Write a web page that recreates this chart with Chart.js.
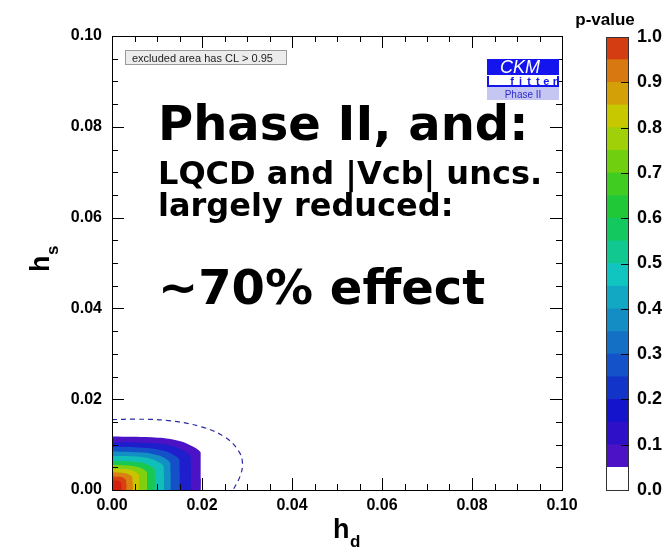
<!DOCTYPE html>
<html>
<head>
<meta charset="utf-8">
<script src="https://cdn.jsdelivr.net/npm/chart.js@4.4.1/dist/chart.umd.min.js"></script>
<style>
html, body { margin: 0; padding: 0; background: #fff; }
#wrap { position: relative; width: 664px; height: 552px; }
#main { position: absolute; left: 0; top: 0; }
#bar { position: absolute; left: 590px; top: 0; }
</style>
</head>
<body>
<div id="wrap">
<canvas id="main" width="664" height="552"></canvas>
<canvas id="bar" width="74" height="552"></canvas>
</div>
<script>
// ---------------- DATA ----------------

// p-value contour levels and the fill colour above each level
const levels = [0.05, 0.1, 0.2, 0.3, 0.4, 0.5, 0.65, 0.8, 0.85, 0.9, 0.95];
const levelColors = ["#4b12c6", "#1e1ecc", "#1450c8", "#1290c4", "#10c0b8",
    "#18c850", "#80d010", "#c8c400", "#d88010", "#d84010", "#d42010"];

// contour boundaries (h_d, h_s)
const contourX = [
    [0, 0.0088, 0.0140, 0.0175, 0.0200, 0.0211, 0.0210, 0.0197],
    [0, 0.0079, 0.0124, 0.0156, 0.0177, 0.0187, 0.0187, 0.0175],
    [0, 0.0068, 0.0107, 0.0134, 0.0152, 0.0161, 0.0161, 0.0150],
    [0, 0.0059, 0.0092, 0.0116, 0.0131, 0.0139, 0.0139, 0.0130],
    [0, 0.0052, 0.0082, 0.0102, 0.0116, 0.0123, 0.0123, 0.0115],
    [0, 0.0043, 0.0067, 0.0085, 0.0096, 0.0102, 0.0102, 0.0095],
    [0, 0.0035, 0.0055, 0.0069, 0.0079, 0.0083, 0.0083, 0.0078],
    [0, 0.0027, 0.0043, 0.0053, 0.0061, 0.0064, 0.0064, 0.0060],
    [0, 0.0021, 0.0033, 0.0041, 0.0046, 0.0049, 0.0049, 0.0046],
    [0, 0.0014, 0.0023, 0.0028, 0.0032, 0.0034, 0.0034, 0.0032],
    [0, 0.0009, 0.0015, 0.0019, 0.0021, 0.0022, 0.0022, 0.0021]
];
const contourY = [
    [0.0118, 0.0116, 0.0110, 0.0098, 0.0080, 0.0055, 0.0027, 0],
    [0.0106, 0.0104, 0.0099, 0.0088, 0.0072, 0.0050, 0.0024, 0],
    [0.0095, 0.0093, 0.0088, 0.0079, 0.0065, 0.0045, 0.0022, 0],
    [0.0085, 0.0083, 0.0079, 0.0071, 0.0058, 0.0040, 0.0020, 0],
    [0.0075, 0.0074, 0.0070, 0.0062, 0.0051, 0.0035, 0.0017, 0],
    [0.0064, 0.0063, 0.0060, 0.0053, 0.0044, 0.0030, 0.0015, 0],
    [0.0055, 0.0054, 0.0051, 0.0046, 0.0037, 0.0026, 0.0013, 0],
    [0.0047, 0.0046, 0.0044, 0.0039, 0.0032, 0.0022, 0.0011, 0],
    [0.0039, 0.0038, 0.0036, 0.0032, 0.0027, 0.0018, 0.0009, 0],
    [0.0030, 0.0029, 0.0028, 0.0025, 0.0020, 0.0014, 0.0007, 0],
    [0.0021, 0.0021, 0.0020, 0.0017, 0.0014, 0.0010, 0.0005, 0]
];

// dashed contour
const dashedX = [0, 0.0051, 0.0125, 0.0199, 0.0250, 0.0280, 0.0290, 0.0284, 0.0269];
const dashedY = [0.0155, 0.0156, 0.0153, 0.0139, 0.0117, 0.0088, 0.0059, 0.0029, 0];

// colour scale bands (lower edge 0.00 ... 0.95, each 0.05 high)
const bandSizes = [0.05, 0.05, 0.05, 0.05, 0.05, 0.05, 0.05, 0.05, 0.05, 0.05,
    0.05, 0.05, 0.05, 0.05, 0.05, 0.05, 0.05, 0.05, 0.05, 0.05];
const bandColors = ["#ffffff", "#4b12c6", "#2d10c8", "#1414cc", "#1234c8",
    "#1352c8", "#1470c4", "#148cc4", "#12a8c4", "#10c4c0",
    "#10c890", "#14c860", "#20c838", "#40cc20", "#70d010",
    "#a0d008", "#c8c800", "#d4a008", "#d87810", "#d43c12"];

// ---------------- MAIN PLOT ----------------

const datasets = [];

datasets.push({
    data: dashedX.map((x, i) => ({ x: x, y: dashedY[i] })),
    borderColor: "#2a2aa0",
    borderWidth: 1.2,
    borderDash: [5, 4],
    pointRadius: 0,
    fill: false,
    tension: 0.4,
    order: 0
});

levels.forEach((lv, k) => {
    datasets.push({
        data: contourX[k].map((x, i) => ({ x: x, y: contourY[k][i] })),
        borderWidth: 0,
        borderColor: levelColors[k],
        backgroundColor: levelColors[k],
        pointRadius: 0,
        fill: "origin",
        tension: 0.4,
        order: 100 - k
    });
});

const tickFont = { family: "'Liberation Sans', Arial, sans-serif", weight: "bold", size: 16 };

const framePlugin = {
    id: "frame",
    afterDraw(chart) {
        const ctx = chart.ctx;
        const a = chart.chartArea;
        const xs = chart.scales.x;
        const ys = chart.scales.y;
        ctx.save();

        // frame
        ctx.strokeStyle = "#000";
        ctx.lineWidth = 1;
        ctx.strokeRect(a.left + 0.5, a.top + 0.5, a.right - a.left, a.bottom - a.top);

        // inner ticks on all sides
        ctx.beginPath();
        for (let i = 0; i <= 20; i++) {
            const v = i * 0.005;
            const len = (i % 4 === 0) ? 12 : 6;
            const px = Math.round(xs.getPixelForValue(v)) + 0.5;
            const py = Math.round(ys.getPixelForValue(v)) + 0.5;
            ctx.moveTo(px, a.bottom); ctx.lineTo(px, a.bottom - len);
            ctx.moveTo(px, a.top); ctx.lineTo(px, a.top + len);
            ctx.moveTo(a.left, py); ctx.lineTo(a.left + len, py);
            ctx.moveTo(a.right, py); ctx.lineTo(a.right - len, py);
        }
        ctx.stroke();

        // legend box
        ctx.fillStyle = "#ececec";
        ctx.fillRect(125.5, 50.5, 161, 14);
        ctx.strokeStyle = "#9a9a9a";
        ctx.strokeRect(125.5, 50.5, 161, 14);
        ctx.fillStyle = "#222";
        ctx.font = "11px 'Liberation Sans', Arial, sans-serif";
        ctx.textBaseline = "alphabetic";
        ctx.fillText("excluded area has CL > 0.95", 132, 61.5);

        // CKMfitter logo
        ctx.fillStyle = "#1414ee";
        ctx.fillRect(487, 59, 72, 16);
        ctx.fillStyle = "#fff";
        ctx.font = "italic 18px 'Liberation Sans', Arial, sans-serif";
        ctx.textAlign = "center";
        ctx.fillText("CKM", 520, 73);
        ctx.fillStyle = "#1414ee";
        ctx.fillRect(487, 76, 72, 11);
        ctx.fillStyle = "#fff";
        ctx.fillRect(489, 76, 68, 9);
        ctx.fillStyle = "#1414ee";
        ctx.font = "bold 11px 'Liberation Sans', Arial, sans-serif";
        "fitter".split("").forEach((c, i) => ctx.fillText(c, 512 + i * 8.6, 84.5));
        ctx.fillStyle = "#c6c6f2";
        ctx.fillRect(487, 87, 72, 13);
        ctx.fillStyle = "#2b2bd0";
        ctx.font = "10px 'Liberation Sans', Arial, sans-serif";
        ctx.fillText("Phase II", 523, 97.5);

        // annotation text
        ctx.fillStyle = "#000";
        ctx.textAlign = "left";
        ctx.font = "bold 48px 'DejaVu Sans'";
        ctx.fillText("Phase II, and:", 158, 140);
        ctx.font = "bold 32px 'DejaVu Sans'";
        ctx.fillText("LQCD and |Vcb| uncs.", 158, 184);
        ctx.fillText("largely reduced:", 158, 216);
        ctx.font = "bold 48px 'DejaVu Sans'";
        ctx.fillText("~70% effect", 158, 304);

        // axis titles
        ctx.font = "bold 27px 'Liberation Sans', Arial, sans-serif";
        ctx.fillText("h", 333, 538);
        ctx.font = "bold 17px 'Liberation Sans', Arial, sans-serif";
        ctx.fillText("d", 350, 547);

        ctx.save();
        ctx.translate(49, 272);
        ctx.rotate(-Math.PI / 2);
        ctx.font = "bold 27px 'Liberation Sans', Arial, sans-serif";
        ctx.fillText("h", 0, 0);
        ctx.font = "bold 17px 'Liberation Sans', Arial, sans-serif";
        ctx.fillText("s", 17, 9);
        ctx.restore();

        // colour scale title
        ctx.font = "bold 17px 'Liberation Sans', Arial, sans-serif";
        ctx.textAlign = "center";
        ctx.fillText("p-value", 605, 25);

        ctx.restore();
    }
};

new Chart(document.getElementById("main"), {
    type: "line",
    data: { datasets: datasets },
    options: {
        responsive: false,
        animation: false,
        layout: { padding: { left: 0, top: 36, right: 102, bottom: 0 } },
        plugins: { legend: { display: false }, tooltip: { enabled: false } },
        scales: {
            x: {
                type: "linear",
                min: 0,
                max: 0.1,
                ticks: {
                    stepSize: 0.02,
                    color: "#000",
                    font: tickFont,
                    padding: 6,
                    maxRotation: 0,
                    callback: v => v.toFixed(2)
                },
                grid: { display: false, drawTicks: false },
                border: { display: false },
                afterFit(s) { s.height = 62; }
            },
            y: {
                type: "linear",
                min: 0,
                max: 0.1,
                ticks: {
                    stepSize: 0.02,
                    color: "#000",
                    font: tickFont,
                    padding: 10,
                    callback: v => v.toFixed(2)
                },
                grid: { display: false, drawTicks: false },
                border: { display: false },
                afterFit(s) { s.width = 112; }
            }
        }
    },
    plugins: [framePlugin]
});

// ---------------- COLOUR SCALE ----------------

const scalePlugin = {
    id: "scaleFrame",
    afterDraw(chart) {
        const ctx = chart.ctx;
        const a = chart.chartArea;
        const ys = chart.scales.y;
        ctx.save();
        ctx.strokeStyle = "#333";
        ctx.lineWidth = 1;
        ctx.strokeRect(a.left + 0.5, a.top + 0.5, a.right - a.left - 1, a.bottom - a.top);
        ctx.strokeStyle = "#000";
        ctx.beginPath();
        ys.ticks.forEach(t => {
            if (t.value <= 0 || t.value >= 1) return;
            const py = Math.round(ys.getPixelForValue(t.value)) + 0.5;
            ctx.moveTo(a.right, py);
            ctx.lineTo(a.right - 8, py);
        });
        ctx.stroke();
        ctx.restore();
    }
};

new Chart(document.getElementById("bar"), {
    type: "bar",
    data: {
        labels: [""],
        datasets: bandSizes.map((s, i) => ({
            data: [s],
            backgroundColor: bandColors[i],
            borderWidth: 0,
            barPercentage: 1,
            categoryPercentage: 1
        }))
    },
    options: {
        responsive: false,
        animation: false,
        layout: { padding: { left: 16, top: 37, right: 0, bottom: 62 } },
        plugins: { legend: { display: false }, tooltip: { enabled: false } },
        scales: {
            x: { stacked: true, display: false },
            y: {
                stacked: true,
                position: "right",
                min: 0,
                max: 1,
                ticks: {
                    stepSize: 0.1,
                    color: "#000",
                    font: { family: "'Liberation Sans', Arial, sans-serif", weight: "bold", size: 18 },
                    padding: 8,
                    callback: v => v.toFixed(1)
                },
                grid: { display: false, drawTicks: false },
                border: { display: false },
                afterFit(s) { s.width = 35; }
            }
        }
    },
    plugins: [scalePlugin]
});
</script>
</body>
</html>
